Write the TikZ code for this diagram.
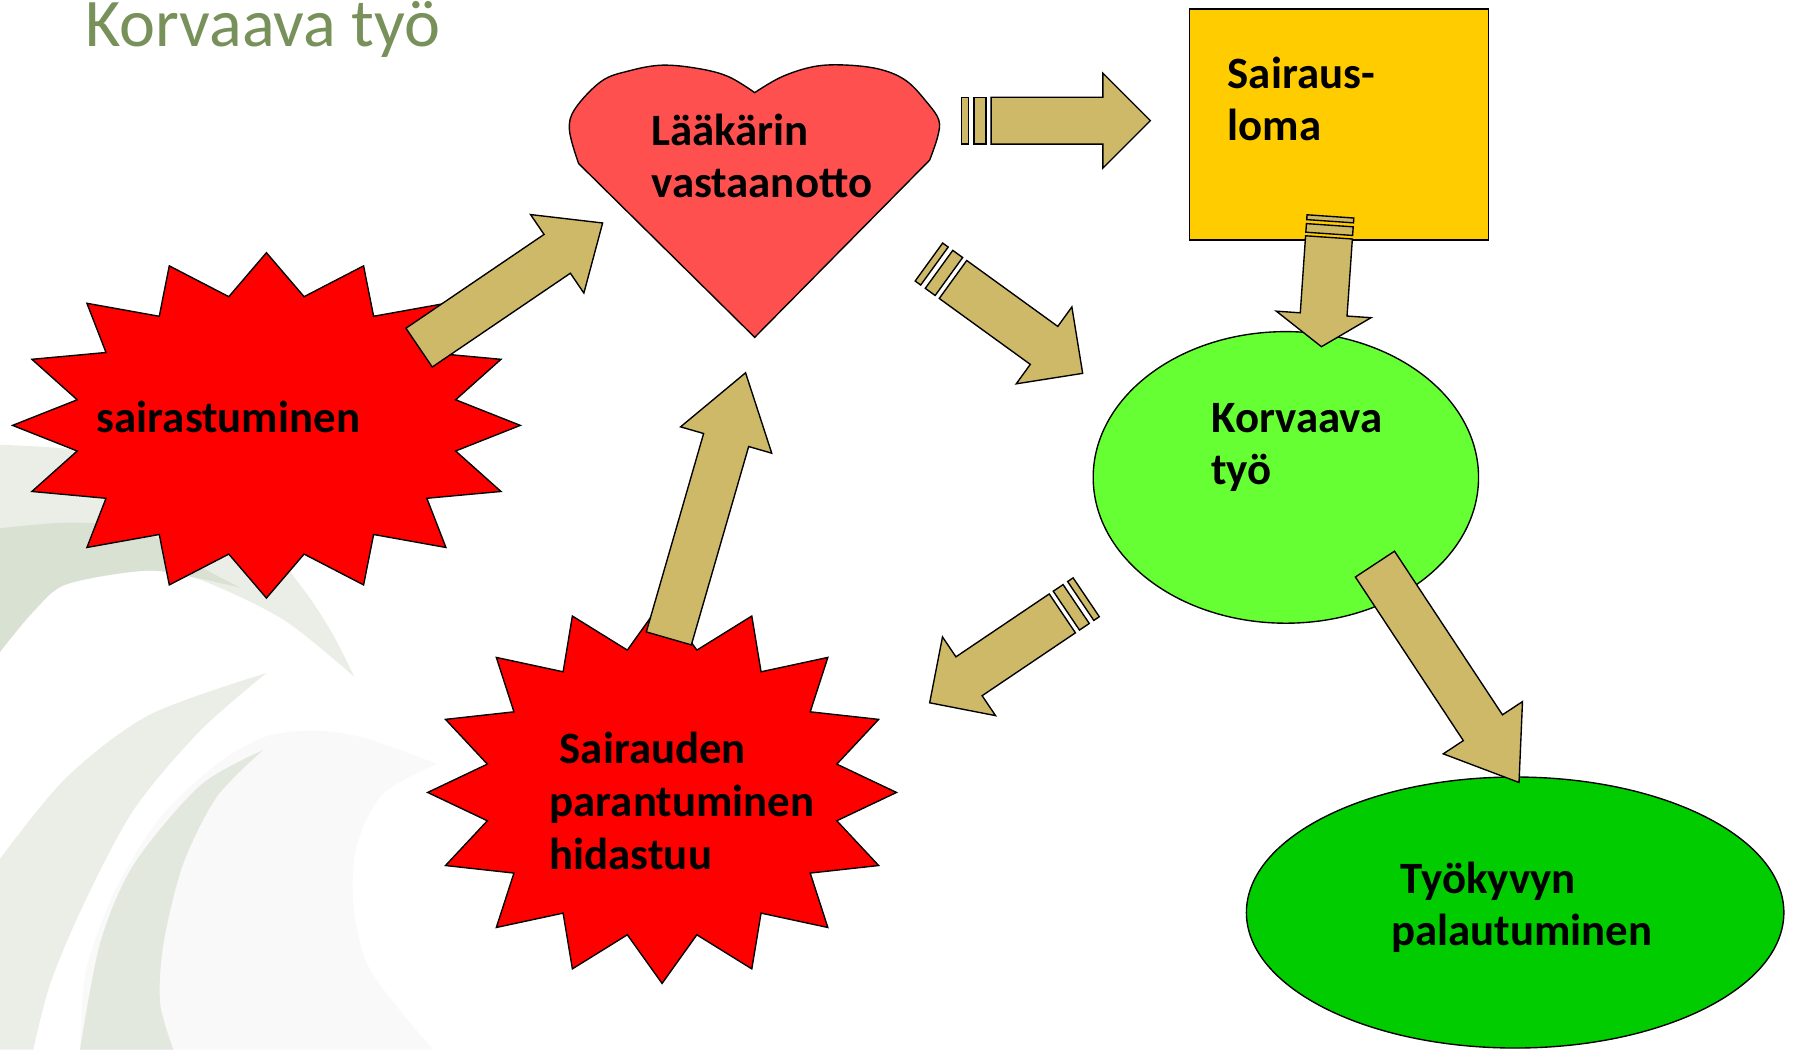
\documentclass[tikz,border=0pt]{standalone}
\usepackage{fontspec}
\setmainfont{Carlito}
\usetikzlibrary{calc,shapes.geometric}
\definecolor{arrowtan}{RGB}{205,185,104}
\definecolor{heartred}{RGB}{255,80,80}
\definecolor{starred}{RGB}{255,0,0}
\definecolor{boxyellow}{RGB}{255,204,0}
\definecolor{lightgreen}{RGB}{102,255,51}
\definecolor{darkgreen}{RGB}{0,204,0}
\definecolor{titlegreen}{RGB}{120,145,90}
\definecolor{bgA}{RGB}{235,238,230}
\definecolor{bgB}{RGB}{217,225,211}
\definecolor{bgD}{RGB}{249,249,249}
\definecolor{bgE}{RGB}{227,232,222}
\newcommand\arrSW{20.5pt}
\newcommand\arrHW{41.5pt}
% block arrow from #1 (shaft start) to #2 (tip), head length #3
\newcommand\blockarrow[3]{%
  \coordinate (tmpH) at ($(#2)!#3!(#1)$);
  \draw[barrow] ($(#1)!\arrSW!90:(#2)$) -- ($(tmpH)!\arrSW!90:(#2)$) -- ($(tmpH)!\arrHW!90:(#2)$) -- (#2)
    -- ($(tmpH)!\arrHW!-90:(#2)$) -- ($(tmpH)!\arrSW!-90:(#2)$) -- ($(#1)!\arrSW!-90:(#2)$) -- cycle;}
% one stripe behind the start #1 of arrow to #2, from distance #3 to #4
\newcommand\stripebar[4]{%
  \coordinate (tmpS) at ($(#1)!-#3!(#2)$);
  \coordinate (tmpT) at ($(#1)!-#4!(#2)$);
  \draw[barrow] ($(tmpS)!\arrSW!90:(#2)$) -- ($(tmpT)!\arrSW!90:(#2)$) -- ($(tmpT)!\arrSW!-90:(#2)$) -- ($(tmpS)!\arrSW!-90:(#2)$) -- cycle;}
\newcommand\stripepair[3]{%
  \stripebar{#1}{#2}{#3pt}{#3*0.77pt}%
  \stripebar{#1}{#2}{#3*0.58pt}{#3*0.17pt}}
% 16-point star polygon
\newcommand\starpoly[4]{%
  \draw[starsty] plot[samples at={0,...,31}]
    ({#1+#3*ifthenelse(mod(\x,2)==0,1,0.76)*cos(\x*11.25)},{#2+#4*ifthenelse(mod(\x,2)==0,1,0.76)*sin(\x*11.25)}) -- cycle;}
\begin{document}
\begin{tikzpicture}[x=1pt,y=1pt,
  barrow/.style={draw=black, line width=1.2pt, fill=arrowtan, line join=miter},
  starsty/.style={draw=black, line width=1.2pt, fill=starred, line join=miter},
  shapeline/.style={draw=black, line width=1.2pt},
  lbl/.style={font={\fontsize{39.2}{46}\selectfont\bfseries}, anchor=base west, align=left, text width=330pt, inner sep=0pt}]
\useasboundingbox (0,0) rectangle (1568,-918);
\fill[white] (0,0) rectangle (1568,-918);
% background swooshes
\fill[bgA] plot[smooth] coordinates {(0,-389) (70,-394) (150,-415) (215,-455) (265,-515) (290,-553) (310,-592)}
  -- plot[smooth] coordinates {(310,-592) (248,-542) (175,-507) (128,-499) (58,-511) (29,-535) (0,-570)} -- cycle;
\fill[bgB] plot[smooth] coordinates {(0,-462) (60,-457) (120,-462) (165,-490) (210,-514)}
  -- plot[smooth] coordinates {(210,-514) (175,-506) (128,-499) (58,-511) (29,-535) (0,-570)} -- cycle;
\fill[bgA] plot[smooth] coordinates {(0,-751) (58,-680) (131,-625) (233,-588.6)}
  -- plot[smooth] coordinates {(233,-588.6) (175,-639) (117,-708) (73,-791) (44,-860) (29,-918)} -- (0,-918) -- cycle;
\fill[bgD] plot[smooth] coordinates {(70,-918) (75,-850) (100,-780) (140,-715) (190,-668) (233,-644) (277,-639) (321,-646) (382,-668)}
  -- plot[smooth] coordinates {(382,-668) (335,-694) (312,-739) (309,-791) (321,-843) (350,-884) (379,-918)} -- cycle;
\fill[bgE] plot[smooth] coordinates {(230,-656) (175,-687) (117,-756) (87.5,-825) (70,-918)}
  -- plot[smooth] coordinates {(151.6,-918) (140,-877) (143,-825) (160,-756) (189.5,-697) (230,-656)} -- cycle;
% title
\node[font={\fontsize{59.6}{70}\selectfont}, text=titlegreen, anchor=base west, inner sep=0pt] (title) at (74.5,-41) {Korvaava työ};
% stars
\coordinate (sair) at (233,-372);
\starpoly{233}{-372}{222}{151}
\coordinate (hid) at (579,-693);
\starpoly{579}{-693}{205}{167}
% heart
\coordinate (heart) at (660,-180);
\draw[shapeline, fill=heartred] (660,-295) -- plot[smooth, tension=0.6] coordinates {(506,-143) (498,-114) (503,-95) (526,-71) (550,-62) (579,-57) (611,-60) (637,-67) (660,-81)}
  -- plot[smooth, tension=0.6] coordinates {(660,-81) (684,-67) (713,-58) (742,-57) (771,-61) (793,-71) (811,-90) (821,-105) (820,-119.5) (813,-140)} -- cycle;
% box and ellipses
\node[shapeline, rectangle, fill=boxyellow, minimum width=261.5pt, minimum height=202pt, inner sep=0pt] (loma) at (1170.75,-109) {};
\node[shapeline, ellipse, fill=lightgreen, minimum width=337pt, minimum height=255pt, inner sep=0pt] (korv) at (1124.5,-417.5) {};
\node[shapeline, ellipse, fill=darkgreen, minimum width=470pt, minimum height=237pt, inner sep=0pt] (tyo) at (1325,-798) {};
% arrow end points
\coordinate (a1s) at (366.5,-304);   \coordinate (a1e) at (527,-195);
\coordinate (a2s) at (866.7,-105.5); \coordinate (a2e) at (1006,-105.5);
\coordinate (a3s) at (833.4,-244.4); \coordinate (a3e) at (946.8,-326.5);
\coordinate (a4s) at (1162.2,-207.6);\coordinate (a4e) at (1155.6,-303.2);
\coordinate (a5s) at (929,-536.4);   \coordinate (a5e) at (813,-614.6);
\coordinate (a6s) at (1202.4,-493.3);\coordinate (a6e) at (1328.4,-684.3);
\coordinate (a7s) at (584.9,-558.3); \coordinate (a7e) at (652,-326);
% arrows
\blockarrow{a1s}{a1e}{48pt}
\stripepair{a2s}{a2e}{26}
\blockarrow{a2s}{a2e}{41.5pt}
\stripepair{a3s}{a3e}{26}
\blockarrow{a3s}{a3e}{41.7pt}
\stripepair{a4s}{a4e}{18.4}
\blockarrow{a4s}{a4e}{28.3pt}
\stripepair{a5s}{a5e}{25.2}
\blockarrow{a5s}{a5e}{41.5pt}
\blockarrow{a6s}{a6e}{57.4pt}
\blockarrow{a7s}{a7e}{61.2pt}
% texts
\node[lbl] (t-heart) at (569.5,-127) {Lääkärin\\vastaanotto};
\node[lbl] (t-loma) at (1073.5,-77) {Sairaus-\\loma};
\node[lbl] (t-korv) at (1059,-378) {Korvaava\\työ};
\node[lbl] (t-sair) at (84.5,-378) {sairastuminen};
\node[lbl] (t-hid) at (480.5,-668) {\hspace*{8.8pt}Sairauden\\parantuminen\\hidastuu};
\node[lbl] (t-tyo) at (1216.5,-781) {\hspace*{8pt}Työkyvyn\\palautuminen};
\end{tikzpicture}
\end{document}
